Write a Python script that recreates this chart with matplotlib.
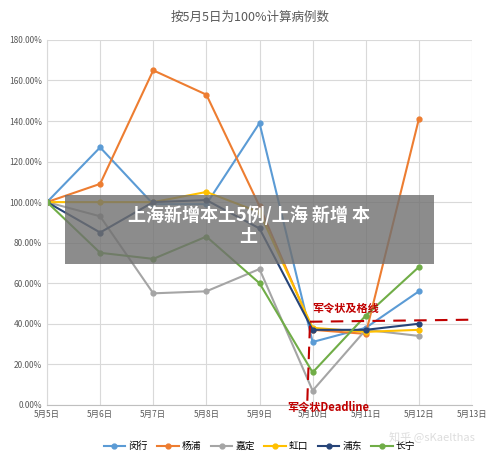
import matplotlib
matplotlib.use("Agg")
import matplotlib.pyplot as plt
from matplotlib.ticker import PercentFormatter
import matplotlib.patches as mpatches

plt.rcParams['font.family'] = ['Noto Sans CJK SC', 'DejaVu Sans']

dates = ["5月5日","5月6日","5月7日","5月8日","5月9日","5月10日","5月11日","5月12日","5月13日"]
names = ["闵行","杨浦","嘉定","虹口","浦东","长宁"]
colors = ["#5b9bd5","#ed7d31","#a5a5a5","#ffc000","#264478","#70ad47"]
minhang = [100,127,99,99,139,31,38,56]
yangpu = [100,109,165,153,98,37,35,141]
jiading = [100,93,55,56,67,7,37,34]
hongkou = [100,100,100,105,95,38,36,37]
pudong = [100,85,100,101,87,37,37,40]
changning = [100,75,72,83,60,16,44,68]
series = [minhang,yangpu,jiading,hongkou,pudong,changning]

fig = plt.figure(figsize=(5.0,4.59),dpi=100)
ax = fig.add_axes([0.094,0.118,0.85,0.795])
x = list(range(8))
for n,c,v in zip(names,colors,series):
    ax.plot(x,v,color=c,lw=1.5,marker='o',ms=3.5,label=n)
ax.set_xlim(0,8)
ax.set_ylim(0,180)
ax.set_yticks(range(0,181,20))
ax.yaxis.set_major_formatter(PercentFormatter(decimals=2))
ax.set_xticks(range(9))
ax.set_xticklabels(dates)
ax.tick_params(labelsize=6,colors='#595959',length=0)
ax.grid(color='#d9d9d9',lw=0.8)
for s in ['top','right']:
    ax.spines[s].set_visible(False)
ax.spines['left'].set_color('#d9d9d9')
ax.spines['bottom'].set_color('#bfbfbf')
fig.text(0.5,0.962,"按5月5日为100%计算病例数",ha='center',va='center',fontsize=9,color='#595959')
ax.legend(loc='upper center',bbox_to_anchor=(0.5,-0.075),ncol=6,frameon=False,fontsize=7,
          handlelength=2.2,columnspacing=1.0,handletextpad=0.3)
# red annotations
ax.plot([4.95,8],[41,42],color='#c00000',ls=(0,(6,4)),lw=1.5)
ax.plot([4.9,4.95],[2,40],color='#c00000',ls=(0,(6,4)),lw=1.5)
ax.text(5.0,46,"军令状及格线",color='#c00000',fontsize=8,fontweight='bold')
ax.text(5.3,-3,"军令状Deadline",color='#c00000',fontsize=8,fontweight='bold',ha='center')
fig.text(0.95,0.04,"知乎 @sKaelthas",ha='right',fontsize=8,color='#dddddd')
# banner
fig.patches.append(mpatches.Rectangle((0.13,0.425),0.737,0.15,transform=fig.transFigure,
                   facecolor='#707070',alpha=0.8,zorder=5))
fig.text(0.497,0.508,"上海新增本土5例/上海 新增 本\n土",ha='center',va='center',fontsize=13,
         fontweight='bold',color='white',zorder=6,linespacing=1.1)
fig.savefig("out.png")
